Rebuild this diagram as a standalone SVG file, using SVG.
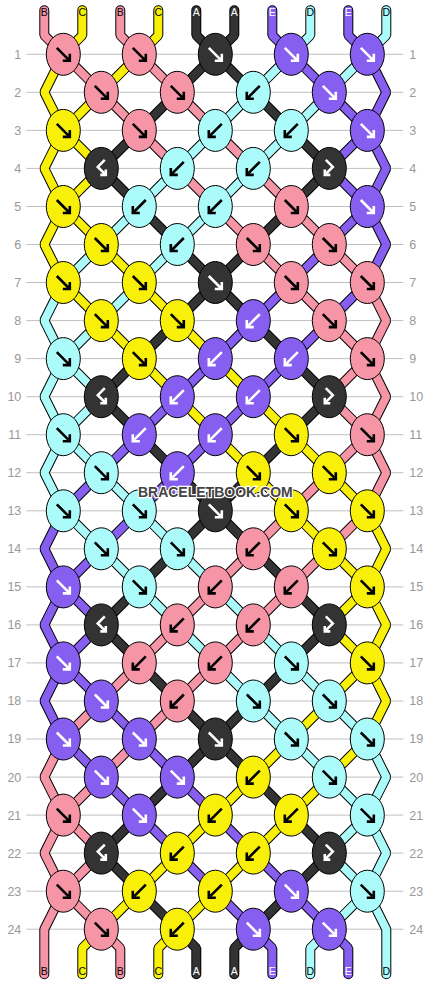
<svg xmlns="http://www.w3.org/2000/svg" width="430" height="984" viewBox="0 0 430 984">
<style>
.grid{stroke:#c0c0c0;stroke-width:1;fill:none}
.num{font-family:"Liberation Sans",Arial,sans-serif;font-size:12.5px;fill:#999}
.nl{text-anchor:end}
.lab{font-family:"Liberation Sans",Arial,sans-serif;font-size:10.5px;text-anchor:middle}
.lk{fill:#000}.lw{fill:#fff}
#conn{fill:none;stroke-linejoin:bevel;stroke-linecap:round}
.o{stroke:#000;stroke-width:10}
.cB{stroke:#F595A6;stroke-width:8}
.cC{stroke:#F9F00A;stroke-width:8}
.cA{stroke:#333;stroke-width:8}
.cE{stroke:#875FF0;stroke-width:8}
.cD{stroke:#ABFBFB;stroke-width:8}
ellipse{stroke:#000;stroke-width:1}
.P ellipse{fill:#F595A6}
.Y ellipse{fill:#F9F00A}
.K ellipse{fill:#333}
.U ellipse{fill:#875FF0}
.D ellipse{fill:#ABFBFB}
.wm{font-family:"Liberation Sans",Arial,sans-serif;font-weight:bold;font-size:14px;text-anchor:middle;fill:#444;stroke:#fff;stroke-width:2.5px;paint-order:stroke}
</style>
<defs>
<path id="seK" d="M-6.5,-6.5L5,5M-0.5,6.5H6.5V-0.5" fill="none" stroke="#000" stroke-width="2.6"/>
<path id="swK" d="M6.5,-6.5L-5,5M0.5,6.5H-6.5V-0.5" fill="none" stroke="#000" stroke-width="2.6"/>
<path id="seW" d="M-6.5,-6.5L5,5M-0.5,6.5H6.5V-0.5" fill="none" stroke="#fff" stroke-width="2.6"/>
<path id="swW" d="M6.5,-6.5L-5,5M0.5,6.5H-6.5V-0.5" fill="none" stroke="#fff" stroke-width="2.6"/>
<path id="bfW" d="M3.5,-8.5L-3.5,-1.5L3.5,5.5M-1,6.5H4.5V1" fill="none" stroke="#fff" stroke-width="2.6"/>
<path id="fbW" d="M-3.5,-8.5L3.5,-1.5L-3.5,5.5M1,6.5H-4.5V1" fill="none" stroke="#fff" stroke-width="2.6"/>
<path id="s0" d="M44,10V35L63,54 101,92 139,130.1 177,168.1 215,206.2 253,244.2 291,282.2 329,320.3 367,358.3 386,396.4 367,434.4 329,472.4 291,510.5 253,548.5 215,586.6 177,624.6 139,662.6 101,700.7 63,738.7 44,776.8 63,814.8 101,852.8 63,890.9 44,928.9V974"/>
<path id="s1" d="M82,10V35L63,54 44,92 63,130.1 101,168.1 63,206.2 44,244.2 63,282.2 101,320.3 139,358.3 177,396.4 215,434.4 253,472.4 291,510.5 329,548.5 367,586.6 386,624.6 367,662.6 329,700.7 291,738.7 253,776.8 215,814.8 177,852.8 139,890.9 101,928.9 82,947.9V974"/>
<path id="s2" d="M120,10V35L139,54 177,92 215,130.1 253,168.1 291,206.2 329,244.2 367,282.2 386,320.3 367,358.3 329,396.4 367,434.4 386,472.4 367,510.5 329,548.5 291,586.6 253,624.6 215,662.6 177,700.7 139,738.7 101,776.8 63,814.8 44,852.8 63,890.9 101,928.9 120,947.9V974"/>
<path id="s3" d="M158,10V35L139,54 101,92 63,130.1 44,168.1 63,206.2 101,244.2 139,282.2 177,320.3 215,358.3 253,396.4 291,434.4 329,472.4 367,510.5 386,548.5 367,586.6 329,624.6 367,662.6 386,700.7 367,738.7 329,776.8 291,814.8 253,852.8 215,890.9 177,928.9 158,947.9V974"/>
<path id="s4" d="M196,10V35L215,54 253,92 291,130.1 329,168.1 291,206.2 253,244.2 215,282.2 177,320.3 139,358.3 101,396.4 139,434.4 177,472.4 215,510.5 253,548.5 291,586.6 329,624.6 291,662.6 253,700.7 215,738.7 177,776.8 139,814.8 101,852.8 139,890.9 177,928.9 196,947.9V974"/>
<path id="s5" d="M234,10V35L215,54 177,92 139,130.1 101,168.1 139,206.2 177,244.2 215,282.2 253,320.3 291,358.3 329,396.4 291,434.4 253,472.4 215,510.5 177,548.5 139,586.6 101,624.6 139,662.6 177,700.7 215,738.7 253,776.8 291,814.8 329,852.8 291,890.9 253,928.9 234,947.9V974"/>
<path id="s6" d="M272,10V35L291,54 329,92 367,130.1 386,168.1 367,206.2 329,244.2 291,282.2 253,320.3 215,358.3 177,396.4 139,434.4 101,472.4 63,510.5 44,548.5 63,586.6 101,624.6 63,662.6 44,700.7 63,738.7 101,776.8 139,814.8 177,852.8 215,890.9 253,928.9 272,947.9V974"/>
<path id="s7" d="M310,10V35L291,54 253,92 215,130.1 177,168.1 139,206.2 101,244.2 63,282.2 44,320.3 63,358.3 101,396.4 63,434.4 44,472.4 63,510.5 101,548.5 139,586.6 177,624.6 215,662.6 253,700.7 291,738.7 329,776.8 367,814.8 386,852.8 367,890.9 329,928.9 310,947.9V974"/>
<path id="s8" d="M348,10V35L367,54 386,92 367,130.1 329,168.1 367,206.2 386,244.2 367,282.2 329,320.3 291,358.3 253,396.4 215,434.4 177,472.4 139,510.5 101,548.5 63,586.6 44,624.6 63,662.6 101,700.7 139,738.7 177,776.8 215,814.8 253,852.8 291,890.9 329,928.9 348,947.9V974"/>
<path id="s9" d="M386,10V35L367,54 329,92 291,130.1 253,168.1 215,206.2 177,244.2 139,282.2 101,320.3 63,358.3 44,396.4 63,434.4 101,472.4 139,510.5 177,548.5 215,586.6 253,624.6 291,662.6 329,700.7 367,738.7 386,776.8 367,814.8 329,852.8 367,890.9 386,928.9V974"/>
</defs>
<rect width="430" height="984" fill="#fff"/>
<g transform="translate(0.3,0.3)">
<path class="grid" d="M26 54H403M26 92H403M26 130.1H403M26 168.1H403M26 206.2H403M26 244.2H403M26 282.2H403M26 320.3H403M26 358.3H403M26 396.4H403M26 434.4H403M26 472.4H403M26 510.5H403M26 548.5H403M26 586.6H403M26 624.6H403M26 662.6H403M26 700.7H403M26 738.7H403M26 776.8H403M26 814.8H403M26 852.8H403M26 890.9H403M26 928.9H403"/>
<g id="rownums">
<text class="num nl" x="21" y="58.5">1</text><text class="num" x="409" y="58.5">1</text>
<text class="num nl" x="21" y="96.5">2</text><text class="num" x="409" y="96.5">2</text>
<text class="num nl" x="21" y="134.6">3</text><text class="num" x="409" y="134.6">3</text>
<text class="num nl" x="21" y="172.6">4</text><text class="num" x="409" y="172.6">4</text>
<text class="num nl" x="21" y="210.7">5</text><text class="num" x="409" y="210.7">5</text>
<text class="num nl" x="21" y="248.7">6</text><text class="num" x="409" y="248.7">6</text>
<text class="num nl" x="21" y="286.7">7</text><text class="num" x="409" y="286.7">7</text>
<text class="num nl" x="21" y="324.8">8</text><text class="num" x="409" y="324.8">8</text>
<text class="num nl" x="21" y="362.8">9</text><text class="num" x="409" y="362.8">9</text>
<text class="num nl" x="21" y="400.9">10</text><text class="num" x="409" y="400.9">10</text>
<text class="num nl" x="21" y="438.9">11</text><text class="num" x="409" y="438.9">11</text>
<text class="num nl" x="21" y="476.9">12</text><text class="num" x="409" y="476.9">12</text>
<text class="num nl" x="21" y="515">13</text><text class="num" x="409" y="515">13</text>
<text class="num nl" x="21" y="553">14</text><text class="num" x="409" y="553">14</text>
<text class="num nl" x="21" y="591.1">15</text><text class="num" x="409" y="591.1">15</text>
<text class="num nl" x="21" y="629.1">16</text><text class="num" x="409" y="629.1">16</text>
<text class="num nl" x="21" y="667.1">17</text><text class="num" x="409" y="667.1">17</text>
<text class="num nl" x="21" y="705.2">18</text><text class="num" x="409" y="705.2">18</text>
<text class="num nl" x="21" y="743.2">19</text><text class="num" x="409" y="743.2">19</text>
<text class="num nl" x="21" y="781.3">20</text><text class="num" x="409" y="781.3">20</text>
<text class="num nl" x="21" y="819.3">21</text><text class="num" x="409" y="819.3">21</text>
<text class="num nl" x="21" y="857.3">22</text><text class="num" x="409" y="857.3">22</text>
<text class="num nl" x="21" y="895.4">23</text><text class="num" x="409" y="895.4">23</text>
<text class="num nl" x="21" y="933.4">24</text><text class="num" x="409" y="933.4">24</text>
</g>
<g id="conn">
<use href="#s0" class="o"/><use href="#s1" class="o"/><use href="#s2" class="o"/><use href="#s3" class="o"/><use href="#s4" class="o"/><use href="#s5" class="o"/><use href="#s6" class="o"/><use href="#s7" class="o"/><use href="#s8" class="o"/><use href="#s9" class="o"/>
<use href="#s0" class="cB"/><use href="#s1" class="cC"/><use href="#s2" class="cB"/><use href="#s3" class="cC"/><use href="#s4" class="cA"/><use href="#s5" class="cA"/><use href="#s6" class="cE"/><use href="#s7" class="cD"/><use href="#s8" class="cE"/><use href="#s9" class="cD"/>
</g>
<g id="labels-top">
<text class="lab lk" x="44" y="16">B</text><text class="lab lk" x="82" y="16">C</text><text class="lab lk" x="120" y="16">B</text><text class="lab lk" x="158" y="16">C</text><text class="lab lw" x="196" y="16">A</text><text class="lab lw" x="234" y="16">A</text><text class="lab lw" x="272" y="16">E</text><text class="lab lk" x="310" y="16">D</text><text class="lab lw" x="348" y="16">E</text><text class="lab lk" x="386" y="16">D</text>
</g>
<g id="labels-bottom">
<text class="lab lk" x="44" y="975">B</text><text class="lab lk" x="82" y="975">C</text><text class="lab lk" x="120" y="975">B</text><text class="lab lk" x="158" y="975">C</text><text class="lab lw" x="196" y="975">A</text><text class="lab lw" x="234" y="975">A</text><text class="lab lw" x="272" y="975">E</text><text class="lab lk" x="310" y="975">D</text><text class="lab lw" x="348" y="975">E</text><text class="lab lk" x="386" y="975">D</text>
</g>
<g id="knots">
<g id="k1_1" class="P" transform="translate(63 54)"><ellipse rx="17" ry="21"/><use href="#seK"/></g>
<g id="k1_2" class="P" transform="translate(139 54)"><ellipse rx="17" ry="21"/><use href="#seK"/></g>
<g id="k1_3" class="K" transform="translate(215 54)"><ellipse rx="17" ry="21"/><use href="#seW"/></g>
<g id="k1_4" class="U" transform="translate(291 54)"><ellipse rx="17" ry="21"/><use href="#seW"/></g>
<g id="k1_5" class="U" transform="translate(367 54)"><ellipse rx="17" ry="21"/><use href="#seW"/></g>
<g id="k2_1" class="P" transform="translate(101 92)"><ellipse rx="17" ry="21"/><use href="#seK"/></g>
<g id="k2_2" class="P" transform="translate(177 92)"><ellipse rx="17" ry="21"/><use href="#seK"/></g>
<g id="k2_3" class="D" transform="translate(253 92)"><ellipse rx="17" ry="21"/><use href="#swK"/></g>
<g id="k2_4" class="U" transform="translate(329 92)"><ellipse rx="17" ry="21"/><use href="#seW"/></g>
<g id="k3_1" class="Y" transform="translate(63 130.1)"><ellipse rx="17" ry="21"/><use href="#seK"/></g>
<g id="k3_2" class="P" transform="translate(139 130.1)"><ellipse rx="17" ry="21"/><use href="#seK"/></g>
<g id="k3_3" class="D" transform="translate(215 130.1)"><ellipse rx="17" ry="21"/><use href="#swK"/></g>
<g id="k3_4" class="D" transform="translate(291 130.1)"><ellipse rx="17" ry="21"/><use href="#swK"/></g>
<g id="k3_5" class="U" transform="translate(367 130.1)"><ellipse rx="17" ry="21"/><use href="#seW"/></g>
<g id="k4_1" class="K" transform="translate(101 168.1)"><ellipse rx="17" ry="21"/><use href="#bfW"/></g>
<g id="k4_2" class="D" transform="translate(177 168.1)"><ellipse rx="17" ry="21"/><use href="#swK"/></g>
<g id="k4_3" class="D" transform="translate(253 168.1)"><ellipse rx="17" ry="21"/><use href="#swK"/></g>
<g id="k4_4" class="K" transform="translate(329 168.1)"><ellipse rx="17" ry="21"/><use href="#fbW"/></g>
<g id="k5_1" class="Y" transform="translate(63 206.2)"><ellipse rx="17" ry="21"/><use href="#seK"/></g>
<g id="k5_2" class="D" transform="translate(139 206.2)"><ellipse rx="17" ry="21"/><use href="#swK"/></g>
<g id="k5_3" class="D" transform="translate(215 206.2)"><ellipse rx="17" ry="21"/><use href="#swK"/></g>
<g id="k5_4" class="P" transform="translate(291 206.2)"><ellipse rx="17" ry="21"/><use href="#seK"/></g>
<g id="k5_5" class="U" transform="translate(367 206.2)"><ellipse rx="17" ry="21"/><use href="#seW"/></g>
<g id="k6_1" class="Y" transform="translate(101 244.2)"><ellipse rx="17" ry="21"/><use href="#seK"/></g>
<g id="k6_2" class="D" transform="translate(177 244.2)"><ellipse rx="17" ry="21"/><use href="#swK"/></g>
<g id="k6_3" class="P" transform="translate(253 244.2)"><ellipse rx="17" ry="21"/><use href="#seK"/></g>
<g id="k6_4" class="P" transform="translate(329 244.2)"><ellipse rx="17" ry="21"/><use href="#seK"/></g>
<g id="k7_1" class="Y" transform="translate(63 282.2)"><ellipse rx="17" ry="21"/><use href="#seK"/></g>
<g id="k7_2" class="Y" transform="translate(139 282.2)"><ellipse rx="17" ry="21"/><use href="#seK"/></g>
<g id="k7_3" class="K" transform="translate(215 282.2)"><ellipse rx="17" ry="21"/><use href="#seW"/></g>
<g id="k7_4" class="P" transform="translate(291 282.2)"><ellipse rx="17" ry="21"/><use href="#seK"/></g>
<g id="k7_5" class="P" transform="translate(367 282.2)"><ellipse rx="17" ry="21"/><use href="#seK"/></g>
<g id="k8_1" class="Y" transform="translate(101 320.3)"><ellipse rx="17" ry="21"/><use href="#seK"/></g>
<g id="k8_2" class="Y" transform="translate(177 320.3)"><ellipse rx="17" ry="21"/><use href="#seK"/></g>
<g id="k8_3" class="U" transform="translate(253 320.3)"><ellipse rx="17" ry="21"/><use href="#swW"/></g>
<g id="k8_4" class="P" transform="translate(329 320.3)"><ellipse rx="17" ry="21"/><use href="#seK"/></g>
<g id="k9_1" class="D" transform="translate(63 358.3)"><ellipse rx="17" ry="21"/><use href="#seK"/></g>
<g id="k9_2" class="Y" transform="translate(139 358.3)"><ellipse rx="17" ry="21"/><use href="#seK"/></g>
<g id="k9_3" class="U" transform="translate(215 358.3)"><ellipse rx="17" ry="21"/><use href="#swW"/></g>
<g id="k9_4" class="U" transform="translate(291 358.3)"><ellipse rx="17" ry="21"/><use href="#swW"/></g>
<g id="k9_5" class="P" transform="translate(367 358.3)"><ellipse rx="17" ry="21"/><use href="#seK"/></g>
<g id="k10_1" class="K" transform="translate(101 396.4)"><ellipse rx="17" ry="21"/><use href="#bfW"/></g>
<g id="k10_2" class="U" transform="translate(177 396.4)"><ellipse rx="17" ry="21"/><use href="#swW"/></g>
<g id="k10_3" class="U" transform="translate(253 396.4)"><ellipse rx="17" ry="21"/><use href="#swW"/></g>
<g id="k10_4" class="K" transform="translate(329 396.4)"><ellipse rx="17" ry="21"/><use href="#fbW"/></g>
<g id="k11_1" class="D" transform="translate(63 434.4)"><ellipse rx="17" ry="21"/><use href="#seK"/></g>
<g id="k11_2" class="U" transform="translate(139 434.4)"><ellipse rx="17" ry="21"/><use href="#swW"/></g>
<g id="k11_3" class="U" transform="translate(215 434.4)"><ellipse rx="17" ry="21"/><use href="#swW"/></g>
<g id="k11_4" class="Y" transform="translate(291 434.4)"><ellipse rx="17" ry="21"/><use href="#seK"/></g>
<g id="k11_5" class="P" transform="translate(367 434.4)"><ellipse rx="17" ry="21"/><use href="#seK"/></g>
<g id="k12_1" class="D" transform="translate(101 472.4)"><ellipse rx="17" ry="21"/><use href="#seK"/></g>
<g id="k12_2" class="U" transform="translate(177 472.4)"><ellipse rx="17" ry="21"/><use href="#swW"/></g>
<g id="k12_3" class="Y" transform="translate(253 472.4)"><ellipse rx="17" ry="21"/><use href="#seK"/></g>
<g id="k12_4" class="Y" transform="translate(329 472.4)"><ellipse rx="17" ry="21"/><use href="#seK"/></g>
<g id="k13_1" class="D" transform="translate(63 510.5)"><ellipse rx="17" ry="21"/><use href="#seK"/></g>
<g id="k13_2" class="D" transform="translate(139 510.5)"><ellipse rx="17" ry="21"/><use href="#seK"/></g>
<g id="k13_3" class="K" transform="translate(215 510.5)"><ellipse rx="17" ry="21"/><use href="#seW"/></g>
<g id="k13_4" class="Y" transform="translate(291 510.5)"><ellipse rx="17" ry="21"/><use href="#seK"/></g>
<g id="k13_5" class="Y" transform="translate(367 510.5)"><ellipse rx="17" ry="21"/><use href="#seK"/></g>
<g id="k14_1" class="D" transform="translate(101 548.5)"><ellipse rx="17" ry="21"/><use href="#seK"/></g>
<g id="k14_2" class="D" transform="translate(177 548.5)"><ellipse rx="17" ry="21"/><use href="#seK"/></g>
<g id="k14_3" class="P" transform="translate(253 548.5)"><ellipse rx="17" ry="21"/><use href="#swK"/></g>
<g id="k14_4" class="Y" transform="translate(329 548.5)"><ellipse rx="17" ry="21"/><use href="#seK"/></g>
<g id="k15_1" class="U" transform="translate(63 586.6)"><ellipse rx="17" ry="21"/><use href="#seW"/></g>
<g id="k15_2" class="D" transform="translate(139 586.6)"><ellipse rx="17" ry="21"/><use href="#seK"/></g>
<g id="k15_3" class="P" transform="translate(215 586.6)"><ellipse rx="17" ry="21"/><use href="#swK"/></g>
<g id="k15_4" class="P" transform="translate(291 586.6)"><ellipse rx="17" ry="21"/><use href="#swK"/></g>
<g id="k15_5" class="Y" transform="translate(367 586.6)"><ellipse rx="17" ry="21"/><use href="#seK"/></g>
<g id="k16_1" class="K" transform="translate(101 624.6)"><ellipse rx="17" ry="21"/><use href="#bfW"/></g>
<g id="k16_2" class="P" transform="translate(177 624.6)"><ellipse rx="17" ry="21"/><use href="#swK"/></g>
<g id="k16_3" class="P" transform="translate(253 624.6)"><ellipse rx="17" ry="21"/><use href="#swK"/></g>
<g id="k16_4" class="K" transform="translate(329 624.6)"><ellipse rx="17" ry="21"/><use href="#fbW"/></g>
<g id="k17_1" class="U" transform="translate(63 662.6)"><ellipse rx="17" ry="21"/><use href="#seW"/></g>
<g id="k17_2" class="P" transform="translate(139 662.6)"><ellipse rx="17" ry="21"/><use href="#swK"/></g>
<g id="k17_3" class="P" transform="translate(215 662.6)"><ellipse rx="17" ry="21"/><use href="#swK"/></g>
<g id="k17_4" class="D" transform="translate(291 662.6)"><ellipse rx="17" ry="21"/><use href="#seK"/></g>
<g id="k17_5" class="Y" transform="translate(367 662.6)"><ellipse rx="17" ry="21"/><use href="#seK"/></g>
<g id="k18_1" class="U" transform="translate(101 700.7)"><ellipse rx="17" ry="21"/><use href="#seW"/></g>
<g id="k18_2" class="P" transform="translate(177 700.7)"><ellipse rx="17" ry="21"/><use href="#swK"/></g>
<g id="k18_3" class="D" transform="translate(253 700.7)"><ellipse rx="17" ry="21"/><use href="#seK"/></g>
<g id="k18_4" class="D" transform="translate(329 700.7)"><ellipse rx="17" ry="21"/><use href="#seK"/></g>
<g id="k19_1" class="U" transform="translate(63 738.7)"><ellipse rx="17" ry="21"/><use href="#seW"/></g>
<g id="k19_2" class="U" transform="translate(139 738.7)"><ellipse rx="17" ry="21"/><use href="#seW"/></g>
<g id="k19_3" class="K" transform="translate(215 738.7)"><ellipse rx="17" ry="21"/><use href="#seW"/></g>
<g id="k19_4" class="D" transform="translate(291 738.7)"><ellipse rx="17" ry="21"/><use href="#seK"/></g>
<g id="k19_5" class="D" transform="translate(367 738.7)"><ellipse rx="17" ry="21"/><use href="#seK"/></g>
<g id="k20_1" class="U" transform="translate(101 776.8)"><ellipse rx="17" ry="21"/><use href="#seW"/></g>
<g id="k20_2" class="U" transform="translate(177 776.8)"><ellipse rx="17" ry="21"/><use href="#seW"/></g>
<g id="k20_3" class="Y" transform="translate(253 776.8)"><ellipse rx="17" ry="21"/><use href="#swK"/></g>
<g id="k20_4" class="D" transform="translate(329 776.8)"><ellipse rx="17" ry="21"/><use href="#seK"/></g>
<g id="k21_1" class="P" transform="translate(63 814.8)"><ellipse rx="17" ry="21"/><use href="#seK"/></g>
<g id="k21_2" class="U" transform="translate(139 814.8)"><ellipse rx="17" ry="21"/><use href="#seW"/></g>
<g id="k21_3" class="Y" transform="translate(215 814.8)"><ellipse rx="17" ry="21"/><use href="#swK"/></g>
<g id="k21_4" class="Y" transform="translate(291 814.8)"><ellipse rx="17" ry="21"/><use href="#swK"/></g>
<g id="k21_5" class="D" transform="translate(367 814.8)"><ellipse rx="17" ry="21"/><use href="#seK"/></g>
<g id="k22_1" class="K" transform="translate(101 852.8)"><ellipse rx="17" ry="21"/><use href="#bfW"/></g>
<g id="k22_2" class="Y" transform="translate(177 852.8)"><ellipse rx="17" ry="21"/><use href="#swK"/></g>
<g id="k22_3" class="Y" transform="translate(253 852.8)"><ellipse rx="17" ry="21"/><use href="#swK"/></g>
<g id="k22_4" class="K" transform="translate(329 852.8)"><ellipse rx="17" ry="21"/><use href="#fbW"/></g>
<g id="k23_1" class="P" transform="translate(63 890.9)"><ellipse rx="17" ry="21"/><use href="#seK"/></g>
<g id="k23_2" class="Y" transform="translate(139 890.9)"><ellipse rx="17" ry="21"/><use href="#swK"/></g>
<g id="k23_3" class="Y" transform="translate(215 890.9)"><ellipse rx="17" ry="21"/><use href="#swK"/></g>
<g id="k23_4" class="U" transform="translate(291 890.9)"><ellipse rx="17" ry="21"/><use href="#seW"/></g>
<g id="k23_5" class="D" transform="translate(367 890.9)"><ellipse rx="17" ry="21"/><use href="#seK"/></g>
<g id="k24_1" class="P" transform="translate(101 928.9)"><ellipse rx="17" ry="21"/><use href="#seK"/></g>
<g id="k24_2" class="Y" transform="translate(177 928.9)"><ellipse rx="17" ry="21"/><use href="#swK"/></g>
<g id="k24_3" class="U" transform="translate(253 928.9)"><ellipse rx="17" ry="21"/><use href="#seW"/></g>
<g id="k24_4" class="U" transform="translate(329 928.9)"><ellipse rx="17" ry="21"/><use href="#seW"/></g>
</g>
<text class="wm" x="215" y="497">BRACELETBOOK.COM</text>
</g>
</svg>
